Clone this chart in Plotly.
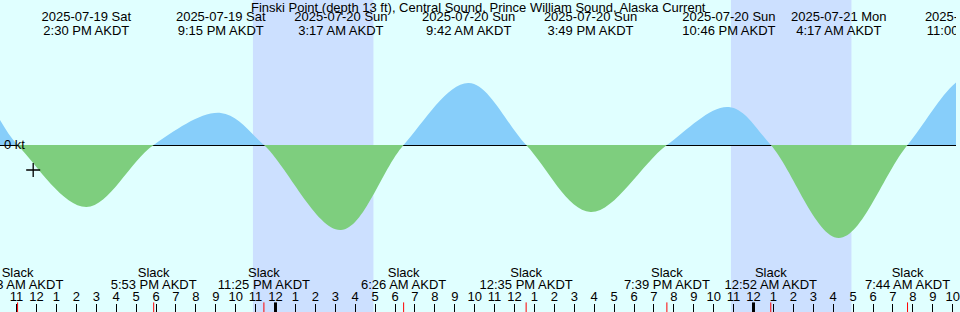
import plotly.graph_objects as go

TITLE = "Finski Point (depth 13 ft), Central Sound, Prince William Sound, Alaska Current"
UNIT_LABEL = "0 kt"

# Current prediction events (AKDT): + flood, - ebb, 0 slack (knots)
curve_times = ["2025-07-19 05:40", "2025-07-19 08:40", "2025-07-19 11:03", "2025-07-19 14:30",
               "2025-07-19 17:53", "2025-07-19 21:15", "2025-07-19 23:25", "2025-07-20 03:17",
               "2025-07-20 06:26", "2025-07-20 09:42", "2025-07-20 12:35", "2025-07-20 15:49",
               "2025-07-20 19:39", "2025-07-20 22:46", "2025-07-21 00:52", "2025-07-21 04:17",
               "2025-07-21 07:44", "2025-07-21 11:00", "2025-07-21 14:20"]
curve_speeds = [0.0, 0.58, 0.0, -0.62,
                0.0, 0.32, 0.0, -0.85,
                0.0, 0.62, 0.0, -0.67,
                0.0, 0.38, 0.0, -0.93,
                0.0, 0.70, 0.0]

# Max flood / max ebb labels (top)
extreme_times = ["2025-07-19 14:30", "2025-07-19 21:15", "2025-07-20 03:17", "2025-07-20 09:42",
                 "2025-07-20 15:49", "2025-07-20 22:46", "2025-07-21 04:17", "2025-07-21 11:00"]
extreme_dates = ["2025-07-19 Sat", "2025-07-19 Sat", "2025-07-20 Sun", "2025-07-20 Sun",
                 "2025-07-20 Sun", "2025-07-20 Sun", "2025-07-21 Mon", "2025-07-21 Mon"]
extreme_clock = ["2:30 PM AKDT", "9:15 PM AKDT", "3:17 AM AKDT", "9:42 AM AKDT",
                 "3:49 PM AKDT", "10:46 PM AKDT", "4:17 AM AKDT", "11:00 AM AKDT"]

# Slack water labels (bottom)
slack_times = ["2025-07-19 11:03", "2025-07-19 17:53", "2025-07-19 23:25", "2025-07-20 06:26",
               "2025-07-20 12:35", "2025-07-20 19:39", "2025-07-21 00:52", "2025-07-21 07:44"]
slack_clock = ["11:03 AM AKDT", "5:53 PM AKDT", "11:25 PM AKDT", "6:26 AM AKDT",
               "12:35 PM AKDT", "7:39 PM AKDT", "12:52 AM AKDT", "7:44 AM AKDT"]

# Day boundaries (midnight ticks)
day_starts = ["2025-07-20 00:00", "2025-07-21 00:00"]

# Night (sunset -> sunrise)
night_start = ["2025-07-19 22:52", "2025-07-20 22:52"]
night_end = ["2025-07-20 04:55", "2025-07-21 04:55"]

# current-time mark
now_time = ["2025-07-19 11:50"]
now_speed = [-0.25]

X_RANGE = ["2025-07-19 10:10", "2025-07-21 10:10"]

BG = "#e0ffff"
NIGHT = "#cce0ff"
FLOOD = "#87cefa"
EBB = "#7ece7e"
FONT = "Liberation Sans, Arial, sans-serif"
FS = 13
CLEAR = "rgba(0,0,0,0)"

H = 312
ZERO_ROW = 145
split = (H - ZERO_ROW) / H
TICK_ROW = 308  # centre row of the bottom tick marks (label axis is in pixel rows)

fig = go.Figure()

# flood (top subplot, clipped at zero)
fig.add_trace(go.Scatter(x=curve_times, y=curve_speeds, mode="lines",
                         line=dict(shape="spline", width=0, color=FLOOD),
                         fill="tozeroy", fillcolor=FLOOD, xaxis="x2", yaxis="y2",
                         hoverinfo="skip"))
# ebb (bottom subplot, clipped at zero)
fig.add_trace(go.Scatter(x=curve_times, y=curve_speeds, mode="lines",
                         line=dict(shape="spline", width=0, color=EBB),
                         fill="tozeroy", fillcolor=EBB, xaxis="x", yaxis="y",
                         hoverinfo="skip"))
# now mark
fig.add_trace(go.Scatter(x=now_time, y=now_speed, mode="markers",
                         marker=dict(symbol="cross-thin", size=10,
                                     line=dict(color="black", width=1.3)),
                         xaxis="x", yaxis="y", hoverinfo="skip"))

# slack (red) and midnight (thick) tick marks
fig.add_trace(go.Scatter(x=slack_times, y=[TICK_ROW] * len(slack_times), mode="markers",
                         marker=dict(symbol="line-ns", size=8, color="red",
                                     line=dict(color="red", width=1)),
                         xaxis="x", yaxis="y3", hoverinfo="skip"))
fig.add_trace(go.Scatter(x=day_starts, y=[TICK_ROW] * len(day_starts), mode="markers",
                         marker=dict(symbol="line-ns", size=8, color="black",
                                     line=dict(color="black", width=3)),
                         xaxis="x", yaxis="y3", hoverinfo="skip"))

def text_row(xs, texts, row):
    fig.add_trace(go.Scatter(x=xs, y=[row] * len(xs), mode="text", text=texts,
                             textposition="middle center",
                             textfont=dict(family=FONT, size=FS, color="black"),
                             cliponaxis=True, xaxis="x", yaxis="y3", hoverinfo="skip"))

text_row(extreme_times, extreme_dates, 17.7)
text_row(extreme_times, extreme_clock, 31.3)
text_row(slack_times, ["Slack"] * len(slack_times), 274)
text_row(slack_times, slack_clock, 286)

shapes = []
for s, e in zip(night_start, night_end):
    shapes.append(dict(type="rect", xref="x", yref="paper", x0=s, x1=e, y0=0, y1=1,
                       fillcolor=NIGHT, line=dict(width=0), layer="below"))
# zero line, under the ebb fill (visible only during flood)
shapes.append(dict(type="line", xref="x", yref="y", x0=X_RANGE[0], x1=X_RANGE[1],
                   y0=0, y1=0, line=dict(color="black", width=2), layer="below"))

hidden = dict(visible=False, showgrid=False, zeroline=False)

fig.update_layout(
    width=960, height=H,
    margin=dict(l=0, r=0, t=0, b=0),
    paper_bgcolor=BG, plot_bgcolor=CLEAR,
    showlegend=False,
    shapes=shapes,
    font=dict(family=FONT, size=FS, color="black"),
    xaxis=dict(type="date", range=X_RANGE, domain=[0, 1], anchor="free", position=0,
               showgrid=False, zeroline=False, showline=False,
               ticks="inside", ticklen=8, tickwidth=1, tickcolor="black",
               dtick=3600000, tick0="2025-07-20 00:00", tickformat="%-I",
               ticklabelposition="inside", ticklabeloverflow="allow",
               tickfont=dict(family=FONT, size=FS, color="black")),
    xaxis2=dict(type="date", range=X_RANGE, anchor="y2", **hidden),
    yaxis=dict(domain=[0, split], range=[-(H - ZERO_ROW) / 100, 0], anchor="x", **hidden),
    yaxis2=dict(domain=[split, 1], range=[0, ZERO_ROW / 100], anchor="x2", **hidden),
    yaxis3=dict(domain=[0, 1], range=[H, 0], anchor="x", **hidden),
    annotations=[
        dict(text=TITLE, xref="paper", yref="paper", x=0.5, y=1 - 7.5 / H,
             xanchor="center", yanchor="middle", showarrow=False,
             font=dict(family=FONT, size=FS, color="black")),
        dict(text=UNIT_LABEL, xref="paper", yref="paper", x=0, xshift=2, y=1 - 144 / H,
             xanchor="left", yanchor="middle", showarrow=False,
             font=dict(family=FONT, size=FS, color="black")),
    ],
)

fig.write_html("out.html")
